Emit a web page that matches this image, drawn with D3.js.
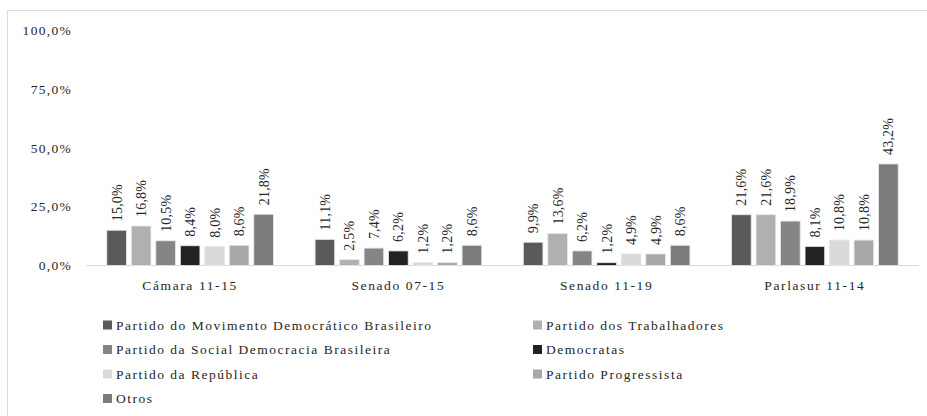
<!DOCTYPE html>
<html>
<head>
<meta charset="utf-8">
<script src="https://cdn.jsdelivr.net/npm/d3@7"></script>
<style>
  body { margin: 0; background: #fff; }
</style>
</head>
<body>
<div id="chart"></div>
<script>
// categories and series
let groups = ["Cámara 11-15", "Senado 07-15", "Senado 11-19", "Parlasur 11-14"];
let parties = [
  "Partido do Movimento Democrático Brasileiro",
  "Partido dos Trabalhadores",
  "Partido da Social Democracia Brasileira",
  "Democratas",
  "Partido da República",
  "Partido Progressista",
  "Otros"
];
let pmdb  = [15.0, 11.1, 9.9, 21.6];
let pt    = [16.8, 2.5, 13.6, 21.6];
let psdb  = [10.5, 7.4, 6.2, 18.9];
let dem   = [8.4, 6.2, 1.2, 8.1];
let pr    = [8.0, 1.2, 4.9, 10.8];
let pp    = [8.6, 1.2, 4.9, 10.8];
let otros = [21.8, 8.6, 8.6, 43.2];
let series = [pmdb, pt, psdb, dem, pr, pp, otros];
let yTicks = [0, 25, 50, 75, 100];

let colors = ["#5a5a5a", "#b0b0b0", "#858585", "#222222", "#dadada", "#a8a8a8", "#7b7b7b"];

let W = 927, H = 416;
let margin = {top: 30.5, right: 8, bottom: 150.5, left: 86};
let serif = "'Liberation Serif', 'Times New Roman', 'DejaVu Serif', serif";

let svg = d3.select("#chart")
            .append("svg")
            .attr("width", W)
            .attr("height", H)
            .attr("font-family", serif)
            .style("font-family", serif);

// outer frame
svg.append("rect")
   .attr("x", 7.5)
   .attr("y", 10.5)
   .attr("width", W)
   .attr("height", H)
   .style("fill", "none")
   .style("stroke", "#d9d9d9");

let y = d3.scaleLinear()
          .domain([0, 100])
          .range([H - margin.bottom, margin.top]);

let x0 = d3.scaleBand()
           .domain(groups)
           .range([margin.left, W - margin.right])
           .paddingInner(0.2)
           .paddingOuter(0.1);

let x1 = d3.scaleBand()
           .domain(d3.range(parties.length))
           .range([0, x0.bandwidth()])
           .paddingInner(0.2);

let fmt = v => d3.format(".1f")(v).replace(".", ",") + "%";

// y axis labels
svg.append("g")
   .selectAll("text")
   .data(yTicks)
   .enter()
   .append("text")
   .attr("x", 72)
   .attr("y", d => y(d))
   .attr("dy", "0.35em")
   .attr("text-anchor", "end")
   .style("fill", "#262626")
   .style("font-size", "13.5px")
   .style("letter-spacing", "1.3px")
   .text(d => fmt(d));

// baseline
svg.append("line")
   .attr("x1", margin.left)
   .attr("x2", W - margin.right)
   .attr("y1", y(0))
   .attr("y2", y(0))
   .style("stroke", "#d9d9d9");

let gGroups = svg.append("g")
                 .selectAll("g")
                 .data(groups)
                 .enter()
                 .append("g")
                 .attr("transform", d => "translate(" + x0(d) + ",0)");

gGroups.each(function(g, gi) {
  let sel = d3.select(this);
  let vals = series.map((s, si) => ({si: si, v: s[gi]}));

  sel.selectAll("rect")
     .data(vals)
     .enter()
     .append("rect")
     .attr("x", d => x1(d.si))
     .attr("y", d => y(d.v))
     .attr("width", x1.bandwidth())
     .attr("height", d => y(0) - y(d.v))
     .style("fill", d => colors[d.si])
     .style("stroke", "#e6e6e6")
     .style("stroke-width", 0.8);

  sel.selectAll("text.lbl")
     .data(vals)
     .enter()
     .append("text")
     .attr("class", "lbl")
     .attr("transform", d => "translate(" + (x1(d.si) + x1.bandwidth() / 2) + "," + (y(d.v) - 9) + ") rotate(-90)")
     .attr("dy", "0.35em")
     .style("fill", "#262626")
     .style("font-size", "14px")
     .style("letter-spacing", "0.2px")
     .text(d => fmt(d.v));
});

// category labels
svg.append("g")
   .selectAll("text")
   .data(groups)
   .enter()
   .append("text")
   .attr("x", d => x0(d) + x0.bandwidth() / 2)
   .attr("y", y(0) + 20)
   .attr("dy", "0.35em")
   .attr("text-anchor", "middle")
   .style("fill", "#262626")
   .style("font-size", "13.5px")
   .style("letter-spacing", "1.6px")
   .text(d => d);

// legend, two columns
let legend = svg.append("g")
                .selectAll("g")
                .data(parties)
                .enter()
                .append("g")
                .attr("transform", (d, i) => "translate(" + (i % 2 === 0 ? 103 : 533) + "," + (325 + Math.floor(i / 2) * 24.5) + ")");

legend.append("rect")
      .attr("x", 0)
      .attr("y", -4.5)
      .attr("width", 9)
      .attr("height", 9)
      .style("fill", (d, i) => colors[i]);

legend.append("text")
      .attr("x", 13)
      .attr("dy", "0.35em")
      .style("fill", "#262626")
      .style("font-size", "13.5px")
      .style("letter-spacing", "1.5px")
      .text(d => d);
</script>
</body>
</html>
